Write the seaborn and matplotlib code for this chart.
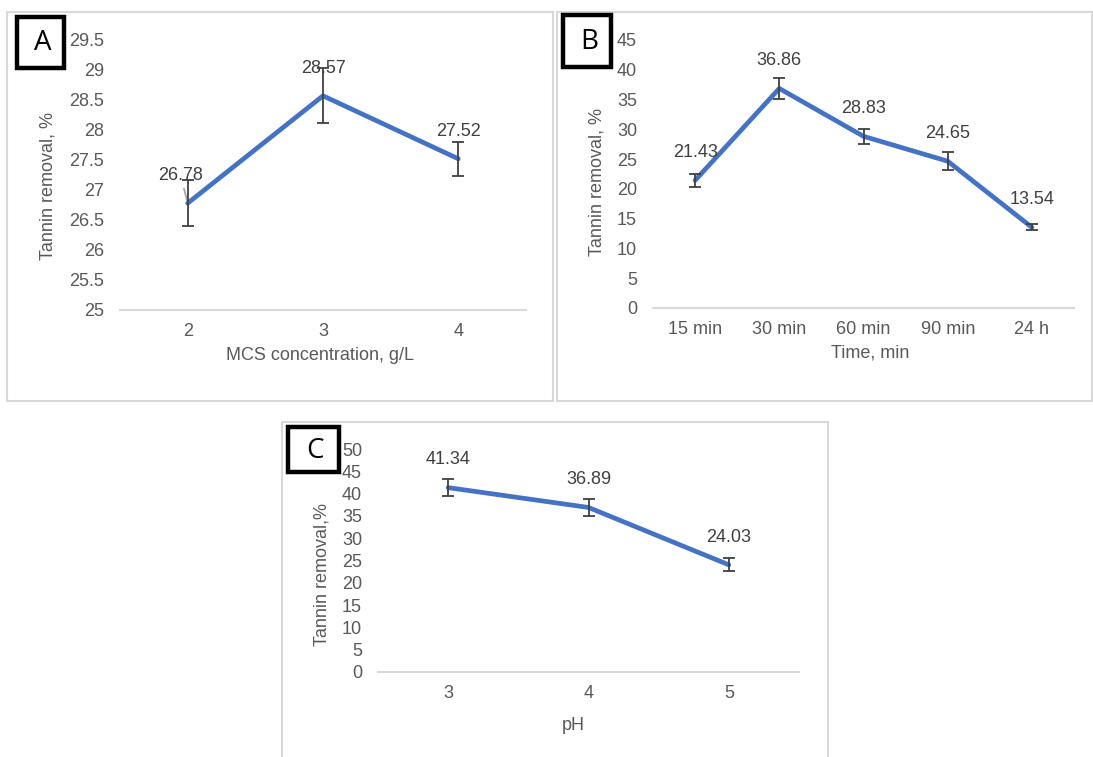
import matplotlib
matplotlib.use("Agg")
import matplotlib.pyplot as plt
from matplotlib.patches import Rectangle
import numpy as np
import pandas as pd
import seaborn as sns

# Panel A: MCS concentration
mcs_dose = ["2", "3", "4"]
mcs_removal = [26.78, 28.57, 27.52]
mcs_err = [0.38, 0.46, 0.28]

# Panel B: contact time
time_labels = ["15 min", "30 min", "60 min", "90 min", "24 h"]
time_removal = [21.43, 36.86, 28.83, 24.65, 13.54]
time_err = [1.1, 1.8, 1.25, 1.5, 0.5]

# Panel C: pH
ph_values = ["3", "4", "5"]
ph_removal = [41.34, 36.89, 24.03]
ph_err = [1.9, 1.9, 1.45]

W, H = 1093, 757
BLUE = "#4472C4"
GRID = "#d9d9d9"
TXT = "#595959"
FS = 13

sns.set_theme(style="white")
plt.rcParams["font.family"] = ["Liberation Sans", "DejaVu Sans"]

fig = plt.figure(figsize=(W / 100, H / 100), dpi=100)


def fx(px):
    return px / W


def fy(py):
    return 1 - py / H


def frame(x0, y0, x1, y1, color=GRID, lw=1.5):
    fig.add_artist(Rectangle((fx(x0), fy(y1)), fx(x1 - x0), (y1 - y0) / H,
                             transform=fig.transFigure, fill=False,
                             edgecolor=color, linewidth=lw))


def letter_box(x0, y0, x1, y1, letter):
    frame(x0, y0, x1, y1, color="black", lw=3.2)
    fig.text(fx((x0 + x1) / 2 + 2), fy((y0 + y1) / 2 + 1), letter,
             ha="center", va="center", fontsize=20, color="black",
             family=["Open Sans", "DejaVu Sans"])


def panel(box, cats, vals, errs, ylim, step, xlabel, ylabel, xlab_px, ylab_px,
          lead=None):
    x0, y0, x1, y1 = box
    ax = fig.add_axes([fx(x0), fy(y1), fx(x1 - x0), (y1 - y0) / H])
    df = pd.DataFrame({"x": cats, "y": vals})
    sns.lineplot(data=df, x="x", y="y", ax=ax, color=BLUE, linewidth=3.4,
                 sort=False)
    ax.errorbar(cats, vals, yerr=errs, fmt="none", ecolor="#404040",
                elinewidth=1.3, capsize=4.5, capthick=1.3, zorder=4)
    for i, (c, v) in enumerate(zip(cats, vals)):
        dx = lead if (lead is not None and i == 0) else 0
        kw = {}
        if lead is not None and i == 0:
            kw["arrowprops"] = dict(arrowstyle="-", color="#a6a6a6", lw=1.3,
                                    shrinkA=1, shrinkB=2)
        ax.annotate(f"{v:.2f}", xy=(i, v), xytext=(dx, 20),
                    textcoords="offset points", ha="center", va="center",
                    fontsize=FS, color="#404040", annotation_clip=False, **kw)
    ax.set_xlim(-0.5, len(cats) - 0.5)
    ax.set_ylim(*ylim)
    ticks = np.arange(ylim[0], ylim[1] + step / 2, step)
    ax.set_yticks(ticks)
    ax.set_yticklabels([f"{t:g}" for t in ticks])
    for s in ["top", "right", "left"]:
        ax.spines[s].set_visible(False)
    ax.spines["bottom"].set_color(GRID)
    ax.spines["bottom"].set_linewidth(1.5)
    ax.tick_params(axis="both", length=0, labelsize=FS, labelcolor=TXT)
    ax.tick_params(axis="y", pad=11.5)
    ax.tick_params(axis="x", pad=9)
    ax.set_xlabel(xlabel, fontsize=FS, color=TXT)
    ax.set_ylabel(ylabel, fontsize=FS, color=TXT)
    ax.xaxis.set_label_coords((xlab_px[0] - x0) / (x1 - x0),
                              (y1 - xlab_px[1]) / (y1 - y0))
    ax.yaxis.set_label_coords((ylab_px[0] - x0) / (x1 - x0),
                              (y1 - ylab_px[1]) / (y1 - y0))
    ax.xaxis.label.set_va("center")
    ax.yaxis.label.set_va("center")
    ax.set_facecolor("none")
    return ax


# outer frames
frame(7, 12, 553, 401)
frame(557, 12, 1092, 401)
frame(282, 422, 828, 760)

panel((120, 40, 526, 310), mcs_dose, mcs_removal, mcs_err, (25, 29.5), 0.5,
      "MCS concentration, g/L", "Tannin removal, %", (320, 356), (48, 186),
      lead=-5)
panel((653, 40, 1074, 308), time_labels, time_removal, time_err, (0, 45), 5,
      "Time, min", "Tannin removal, %", (870, 353), (597, 182))
panel((378, 449, 799, 672), ph_values, ph_removal, ph_err, (0, 50), 5,
      "pH", "Tannin removal,%", (573, 726), (322, 574))

letter_box(17, 17, 64, 68, "A")
letter_box(563, 15, 611, 67, "B")
letter_box(288, 427, 339, 472, "C")

fig.savefig("out.png", dpi=100, facecolor="white")
